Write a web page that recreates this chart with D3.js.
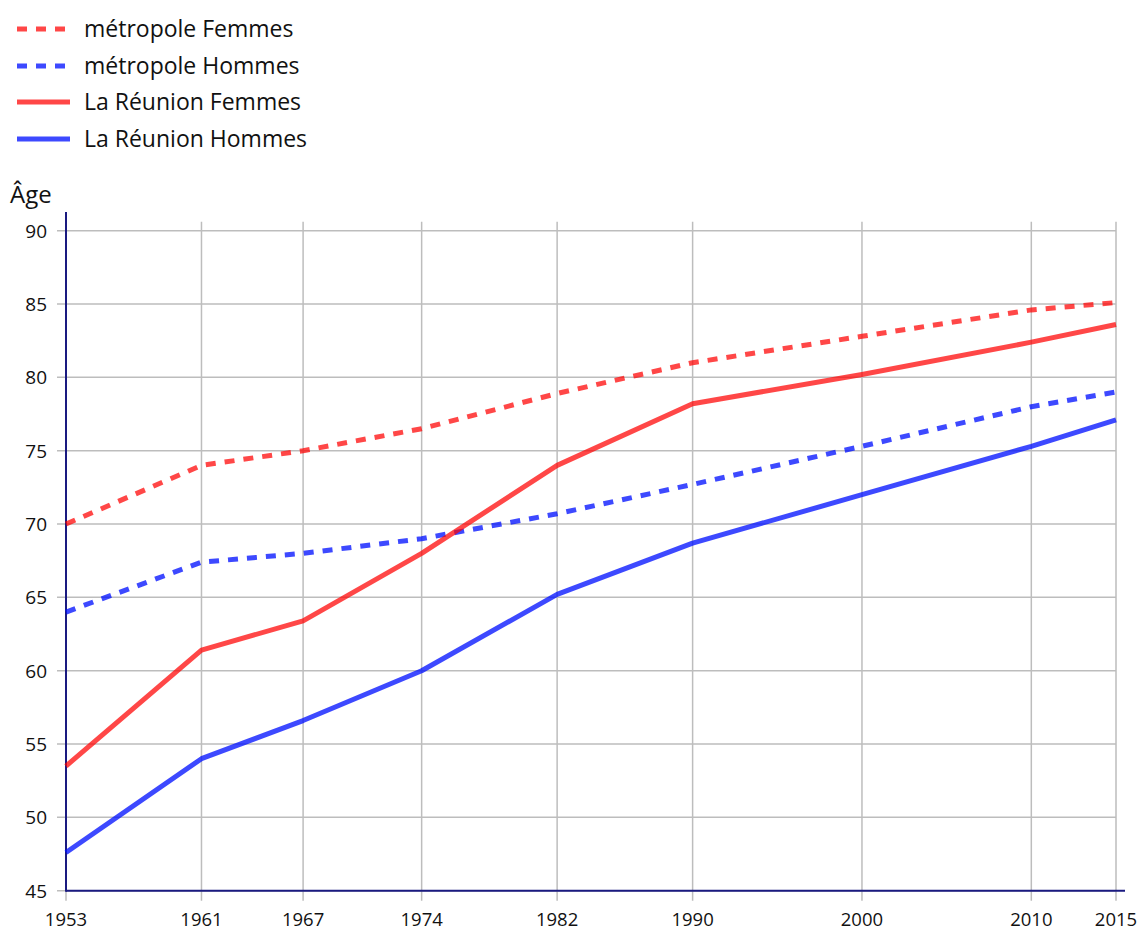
<!DOCTYPE html>
<html>
<head>
<meta charset="utf-8">
<script src="https://cdn.jsdelivr.net/npm/d3@7"></script>
<style>
  html, body { margin: 0; padding: 0; background: #fff; }
  svg { display: block; font-family: "Open Sans", sans-serif; }
</style>
</head>
<body>
<svg id="chart" width="1142" height="933"></svg>
<script>
const years = [1953, 1961, 1967, 1974, 1982, 1990, 2000, 2010, 2015];
const yTicks = [45, 50, 55, 60, 65, 70, 75, 80, 85, 90];
const seriesNames = ["métropole Femmes", "métropole Hommes", "La Réunion Femmes", "La Réunion Hommes"];
const metroFemmes = [70.0, 74.0, 75.0, 76.5, 78.9, 81.0, 82.8, 84.6, 85.1];
const metroHommes = [64.0, 67.4, 68.0, 69.0, 70.7, 72.7, 75.3, 78.0, 79.0];
const reunionFemmes = [53.5, 61.4, 63.4, 68.0, 74.0, 78.2, 80.2, 82.4, 83.6];
const reunionHommes = [47.6, 54.0, 56.6, 60.0, 65.2, 68.7, 72.0, 75.3, 77.1];
const yLabel = "Âge";

const series = [
  { name: seriesNames[0], values: metroFemmes, color: "rgba(255,0,0,0.72)", dashed: true },
  { name: seriesNames[1], values: metroHommes, color: "rgba(0,16,255,0.76)", dashed: true },
  { name: seriesNames[2], values: reunionFemmes, color: "rgba(255,0,0,0.72)", dashed: false },
  { name: seriesNames[3], values: reunionHommes, color: "rgba(0,16,255,0.76)", dashed: false }
];

const svg = d3.select("#chart");
const plotLeft = 66, plotRight = 1116, plotTop = 230.7, plotBottom = 890.7;
const x = d3.scaleLinear().domain([1953, 2015]).range([plotLeft, plotRight]);
const y = d3.scaleLinear().domain([45, 90]).range([plotBottom, plotTop]);

// grid
const grid = svg.append("g");
grid.selectAll("line.h").data(yTicks).enter().append("line")
  .attr("x1", plotLeft - 9).attr("x2", plotRight)
  .attr("y1", d => y(d)).attr("y2", d => y(d))
  .attr("stroke", "#bdbdbd").attr("stroke-width", 1.5);
grid.selectAll("line.v").data(years).enter().append("line")
  .attr("x1", d => x(d)).attr("x2", d => x(d))
  .attr("y1", plotTop - 9).attr("y2", plotBottom + 10)
  .attr("stroke", "#bdbdbd").attr("stroke-width", 1.5);

// y tick labels
svg.append("g").selectAll("text").data(yTicks).enter().append("text")
  .attr("x", 47).attr("y", d => y(d)).attr("dy", "0.36em")
  .attr("text-anchor", "end").attr("font-size", 19).attr("fill", "#111")
  .text(d => d);

// x tick labels
svg.append("g").selectAll("text").data(years).enter().append("text")
  .attr("x", d => x(d)).attr("y", 926)
  .attr("text-anchor", "middle").attr("font-size", 18.5).attr("fill", "#111")
  .text(d => d);

// axis lines
svg.append("line").attr("x1", plotLeft).attr("x2", plotLeft).attr("y1", 212).attr("y2", plotBottom + 1)
  .attr("stroke", "#1a1a80").attr("stroke-width", 2);
svg.append("line").attr("x1", plotLeft).attr("x2", 1125).attr("y1", plotBottom).attr("y2", plotBottom)
  .attr("stroke", "#1a1a80").attr("stroke-width", 2);

svg.append("text").attr("x", 10).attr("y", 203).attr("font-size", 24).attr("fill", "#111").text(yLabel);

// lines
const line = d3.line().x((d, i) => x(years[i])).y(d => y(d));
svg.append("g").selectAll("path").data(series).enter().append("path")
  .attr("d", d => line(d.values))
  .attr("fill", "none")
  .attr("stroke", d => d.color)
  .attr("stroke-width", 5)
  .attr("stroke-linejoin", "round")
  .attr("stroke-dasharray", d => d.dashed ? "10,9" : null);

// legend
const legendY = [29, 66, 102, 139];
const lg = svg.append("g").selectAll("g").data(series).enter().append("g")
  .attr("transform", (d, i) => `translate(0,${legendY[i]})`);
lg.append("line").attr("x1", 17).attr("x2", 70).attr("y1", 0).attr("y2", 0)
  .attr("stroke", d => d.color).attr("stroke-width", 5)
  .attr("stroke-dasharray", d => d.dashed ? "10,9" : null);
lg.append("text").attr("x", 84).attr("y", 0).attr("dy", "0.35em")
  .attr("font-size", 23).attr("fill", "#111").text(d => d.name);
</script>
</body>
</html>
